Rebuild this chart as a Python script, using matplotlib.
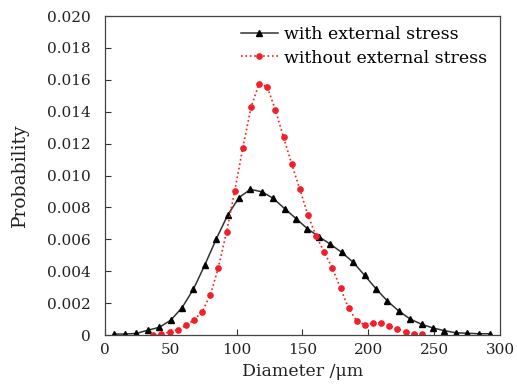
import matplotlib
matplotlib.use("Agg")
import matplotlib.pyplot as plt
from matplotlib.ticker import FuncFormatter, MultipleLocator

# diameter (um) and probability
d_with = [6.5, 15.2, 23.8, 32.5, 41.2, 49.8, 58.5, 67.2, 75.8, 84.5, 93.2, 101.8,
          110.5, 119.2, 127.8, 136.5, 145.2, 153.8, 162.5, 171.2, 179.8, 188.5,
          197.2, 205.8, 214.5, 223.2, 231.8, 240.5, 249.2, 257.8, 266.5, 275.2,
          283.8, 292.5]
p_with = [0.00006, 0.00006, 0.0001, 0.0003, 0.00048, 0.00092, 0.00171, 0.00288,
          0.00439, 0.00602, 0.00752, 0.00862, 0.00913, 0.00898, 0.00857, 0.00792,
          0.00729, 0.00666, 0.00616, 0.00569, 0.00518, 0.00456, 0.00374, 0.0029,
          0.00213, 0.0015, 0.001, 0.00067, 0.00044, 0.00027, 0.00014, 0.00011,
          0.00008, 0.00008]

d_without = [36.7, 42.9, 49.1, 55.2, 61.4, 67.6, 73.8, 80.0, 86.1, 92.3, 98.5,
             104.7, 110.9, 117.0, 123.2, 129.4, 135.6, 141.8, 148.0, 154.1, 160.3,
             166.5, 172.7, 178.9, 185.0, 191.2, 197.4, 203.6, 209.8, 215.9, 222.1,
             228.3, 234.5, 240.7]
p_without = [0.0, 0.00004, 0.00019, 0.00033, 0.00061, 0.00094, 0.00147, 0.00251,
             0.00423, 0.00645, 0.00903, 0.01174, 0.01428, 0.01574, 0.01557, 0.01411,
             0.0124, 0.01072, 0.00913, 0.00752, 0.00621, 0.0052, 0.00419, 0.00293,
             0.00168, 0.00088, 0.00063, 0.00073, 0.00077, 0.00058, 0.00038, 0.00017,
             0.00006, 0.00004]

plt.rcParams['font.family'] = ['DejaVu Serif']
plt.rcParams['font.size'] = 11.5

fig = plt.figure(figsize=(5.17, 3.84), dpi=100)
ax = fig.add_axes([0.2031, 0.1276, 0.7640, 0.8307])

ax.plot(d_with, p_with, '-', color='#333333', lw=1.1, marker='^',
        markersize=4, markerfacecolor='black', markeredgecolor='black',
        label='with external stress')
ax.plot(d_without, p_without, ':', color='#ff1a1a', lw=1.2, marker='o',
        markersize=3.8, markerfacecolor='#f0202a', markeredgecolor='#f0202a',
        label='without external stress')

ax.set_xlim(0, 300)
ax.set_ylim(0, 0.020)
ax.xaxis.set_major_locator(MultipleLocator(50))
ax.yaxis.set_major_locator(MultipleLocator(0.002))
ax.yaxis.set_major_formatter(FuncFormatter(lambda v, p: '0' if abs(v) < 1e-9 else f'{v:.3f}'))
ax.tick_params(direction='in', length=4, width=0.8, colors='#333333',
               labelcolor='#222222', top=False, right=False, labelsize=11)
ax.tick_params(axis='y', pad=10)
ax.tick_params(axis='x', pad=6)
for s in ax.spines.values():
    s.set_color('#444444')
    s.set_linewidth(0.9)

ax.set_xlabel('Diameter /μm', color='#222222', labelpad=4, fontsize=12.5)
ax.set_ylabel('Probability', color='#222222', labelpad=13, fontsize=13.5)

ax.legend(loc='upper right', frameon=False, handlelength=2.1, handletextpad=0.4,
          borderaxespad=0.2, labelspacing=0.35, fontsize=12.5,
          bbox_to_anchor=(0.995, 1.0))

fig.savefig('out.png', dpi=100)
